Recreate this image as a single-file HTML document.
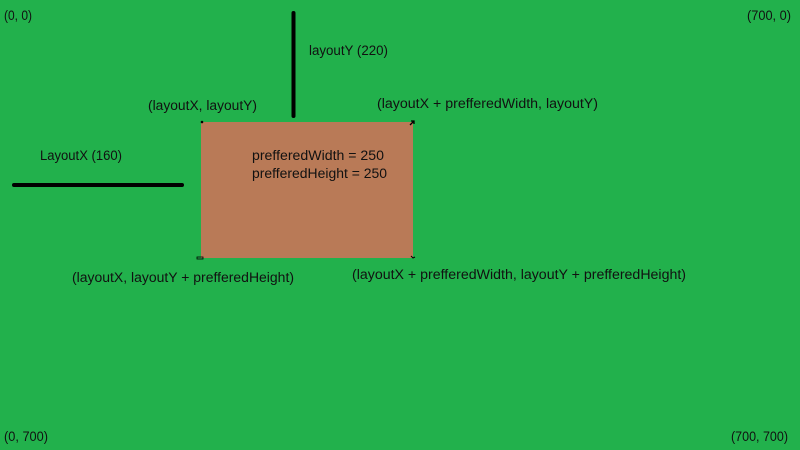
<!DOCTYPE html>
<html><head><meta charset="utf-8"><style>
html,body{margin:0;padding:0;background:#22b14c;}
svg{display:block;}
text{font-family:"Liberation Sans",sans-serif;font-size:13.5px;fill:#111;}
</style></head><body>
<svg width="800" height="450" viewBox="0 0 800 450" xmlns="http://www.w3.org/2000/svg">
<rect width="800" height="450" fill="#22b14c"/>
<rect x="201" y="122" width="212" height="136" fill="#b97a57"/>
<line x1="293.5" y1="13" x2="293.5" y2="116" stroke="#000" stroke-width="4" stroke-linecap="round"/>
<line x1="14" y1="185" x2="182" y2="185" stroke="#000" stroke-width="4" stroke-linecap="round"/>
<circle cx="202" cy="122" r="1.3" fill="#000"/>
<path d="M410 125 L414 121 M411 121 L414 121 L414 124" stroke="#000" stroke-width="1.3" fill="none"/>
<rect x="197" y="257" width="6" height="2" fill="none" stroke="#000" stroke-width="0.8"/>
<path d="M411 256 L413 258 L415 257" stroke="#000" stroke-width="1" fill="none"/>
<text x="4" y="20" textLength="28" lengthAdjust="spacingAndGlyphs">(0, 0)</text>
<text x="747" y="20" textLength="44" lengthAdjust="spacingAndGlyphs">(700, 0)</text>
<text x="309" y="55" textLength="79" lengthAdjust="spacingAndGlyphs">layoutY (220)</text>
<text x="148" y="110" textLength="109" lengthAdjust="spacingAndGlyphs">(layoutX, layoutY)</text>
<text x="377" y="108" textLength="221" lengthAdjust="spacingAndGlyphs">(layoutX + prefferedWidth, layoutY)</text>
<text x="40" y="160" textLength="82" lengthAdjust="spacingAndGlyphs">LayoutX (160)</text>
<text x="252" y="160" textLength="132" lengthAdjust="spacingAndGlyphs">prefferedWidth = 250</text>
<text x="252" y="178" textLength="135" lengthAdjust="spacingAndGlyphs">prefferedHeight = 250</text>
<text x="72" y="282" textLength="222" lengthAdjust="spacingAndGlyphs">(layoutX, layoutY + prefferedHeight)</text>
<text x="352" y="279" textLength="334" lengthAdjust="spacingAndGlyphs">(layoutX + prefferedWidth, layoutY + prefferedHeight)</text>
<text x="4" y="441" textLength="44" lengthAdjust="spacingAndGlyphs">(0, 700)</text>
<text x="731" y="441" textLength="57" lengthAdjust="spacingAndGlyphs">(700, 700)</text>
</svg>
</body></html>
